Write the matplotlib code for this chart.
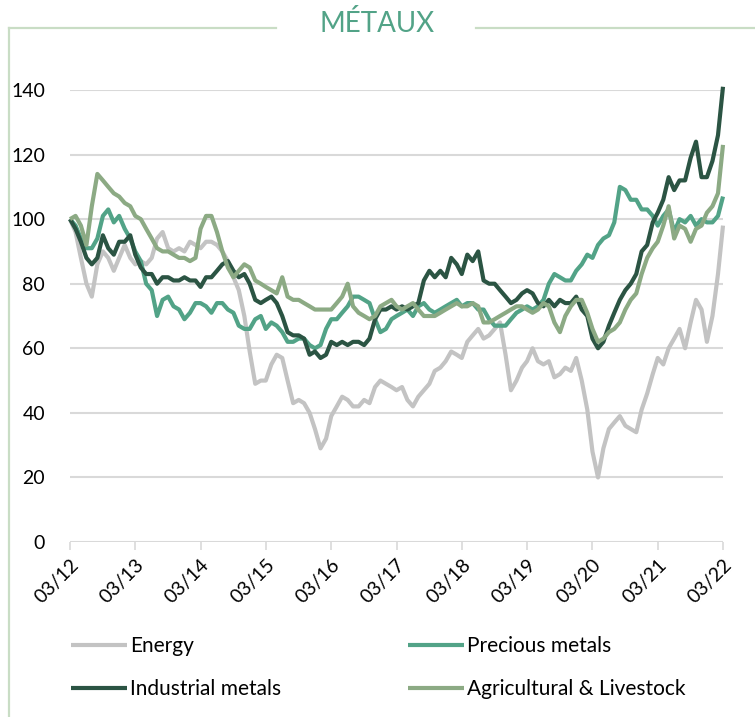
import matplotlib
matplotlib.use("Agg")
import matplotlib.pyplot as plt
from matplotlib.lines import Line2D
import pandas as pd

plt.rcParams['font.family'] = ['Lato', 'DejaVu Sans']

# Monthly index levels, base 100 in March 2012
dates = pd.date_range('2012-03-01', periods=121, freq='MS')

energy = [100, 96, 88, 80, 76, 86, 90, 88, 84, 88, 92, 88, 86, 87, 86, 88, 94, 96, 91, 90,
          91, 90, 93, 92, 91, 93, 93, 92, 90, 87, 82, 78, 70, 59, 49, 50, 50, 55, 58, 57,
          50, 43, 44, 43, 40, 35, 29, 32, 39, 42, 45, 44, 42, 42, 44, 43, 48, 50, 49, 48,
          47, 48, 44, 42, 45, 47, 49, 53, 54, 56, 59, 58, 57, 62, 64, 66, 63, 64, 66, 68,
          58, 47, 50, 54, 56, 60, 56, 55, 56, 51, 52, 54, 53, 57, 50, 41, 28, 20, 29, 35,
          37, 39, 36, 35, 34, 41, 46, 52, 57, 55, 60, 63, 66, 60, 68, 75, 72, 62, 70, 83,
          98]

precious = [100, 98, 94, 91, 91, 94, 101, 103, 99, 101, 97, 94, 90, 87, 80, 78, 70, 75, 76, 73,
            72, 69, 71, 74, 74, 73, 71, 74, 74, 72, 71, 67, 66, 66, 69, 70, 66, 68, 67, 65,
            62, 62, 63, 63, 61, 60, 61, 66, 69, 69, 71, 73, 76, 76, 75, 74, 69, 65, 66, 69,
            70, 71, 72, 70, 73, 74, 72, 71, 72, 73, 74, 75, 73, 74, 74, 72, 72, 69, 67, 67,
            67, 69, 71, 72, 73, 72, 73, 75, 80, 83, 82, 81, 81, 84, 86, 89, 88, 92, 94, 95,
            99, 110, 109, 106, 106, 103, 103, 101, 98, 101, 103, 96, 100, 99, 101, 98, 100, 99, 99, 101,
            107]

industrial = [100, 97, 93, 88, 86, 88, 95, 91, 89, 93, 93, 95, 89, 85, 83, 83, 80, 82, 82, 81,
              81, 82, 81, 81, 79, 82, 82, 84, 86, 87, 84, 82, 83, 80, 75, 74, 75, 76, 74, 70,
              65, 64, 64, 63, 58, 59, 57, 58, 62, 61, 62, 61, 62, 62, 61, 63, 69, 72, 72, 73,
              72, 73, 72, 73, 74, 81, 84, 82, 84, 82, 88, 86, 83, 89, 87, 90, 81, 80, 80, 78,
              76, 74, 75, 77, 78, 77, 74, 73, 75, 73, 75, 74, 74, 76, 72, 70, 63, 60, 62, 67,
              71, 75, 78, 80, 83, 90, 92, 99, 102, 106, 113, 109, 112, 112, 119, 124, 113, 113, 118, 126,
              141]

agri = [100, 101, 98, 92, 104, 114, 112, 110, 108, 107, 105, 104, 101, 100, 97, 94, 91, 90, 90, 89,
        88, 88, 87, 88, 97, 101, 101, 96, 90, 85, 82, 84, 86, 85, 81, 80, 79, 78, 77, 82,
        76, 75, 75, 74, 73, 72, 72, 72, 72, 74, 76, 80, 73, 71, 70, 69, 70, 73, 74, 75,
        73, 72, 73, 74, 72, 70, 70, 70, 71, 72, 73, 74, 73, 73, 74, 73, 68, 68, 69, 70,
        71, 72, 73, 73, 72, 71, 72, 74, 73, 68, 65, 70, 73, 75, 75, 71, 66, 62, 63, 65,
        66, 68, 72, 75, 77, 83, 88, 91, 93, 98, 104, 94, 98, 97, 93, 97, 98, 102, 104, 108,
        123]

series_names = ['Energy', 'Precious metals', 'Industrial metals', 'Agricultural & Livestock']
series_values = [energy, precious, industrial, agri]
series_colors = ['#c3c3c3', '#52a387', '#2b5443', '#8caa84']

tick_years = list(range(2012, 2023))
tick_labels = [f"03/{y % 100:02d}" for y in tick_years]
y_ticks = [0, 20, 40, 60, 80, 100, 120, 140]

fig = plt.figure(figsize=(7.55, 7.17), dpi=100)
ax = fig.add_axes([70 / 755, 1 - 542 / 717, 653 / 755, (542 - 90) / 717])

handles = []
for name, vals, col in zip(series_names, series_values, series_colors):
    h, = ax.plot(dates, vals, color=col, lw=3.0, label=name, clip_on=False,
                 solid_joinstyle='round', solid_capstyle='butt')
    handles.append(h)

ax.set_ylim(0, 140)
ax.set_xlim(dates[0], dates[-1])
ax.set_yticks(y_ticks)
ax.set_yticklabels([str(v) for v in y_ticks])
ax.set_xticks([pd.Timestamp(f'{y}-03-01') for y in tick_years])
ax.set_xticklabels(tick_labels, rotation=45, ha='right', rotation_mode='anchor')

ax.grid(axis='y', color='#d9d9d9', lw=1.5)
ax.set_axisbelow(True)
for s in ['top', 'right', 'left', 'bottom']:
    ax.spines[s].set_visible(False)
ax.tick_params(axis='y', length=0, pad=18, labelsize=14, colors='#000000')
ax.tick_params(axis='x', length=6, width=1.2, color='#d9d9d9', pad=4, labelsize=14)

# Order legend entries row by row: Energy / Precious, Industrial / Agricultural
order = [0, 2, 1, 3]
leg = fig.legend([handles[i] for i in order], [series_names[i] for i in order],
                 loc='upper left', bbox_to_anchor=(71 / 755, 1 - 636 / 717),
                 ncol=2, frameon=False, fontsize=15, handlelength=2.7,
                 handletextpad=0.12, columnspacing=6.1, labelspacing=1.12,
                 borderaxespad=0, borderpad=0)
for line in leg.get_lines():
    line.set_linewidth(3.0)

# Decorative frame with the title breaking the top edge
frame_col = '#c9ddc5'
fig.add_artist(Line2D([9 / 755, 9 / 755], [0, 1 - 28 / 717], color=frame_col, lw=1.6))
fig.add_artist(Line2D([9 / 755, 276 / 755], [1 - 28 / 717, 1 - 28 / 717], color=frame_col, lw=1.6))
fig.add_artist(Line2D([476 / 755, 1.0], [1 - 28 / 717, 1 - 28 / 717], color=frame_col, lw=1.6))
fig.text(377 / 755, 1 - 24 / 717, 'MÉTAUX', ha='center', va='center',
         fontsize=20, color='#52a387', fontweight='normal')

fig.savefig('out.png', dpi=100)
